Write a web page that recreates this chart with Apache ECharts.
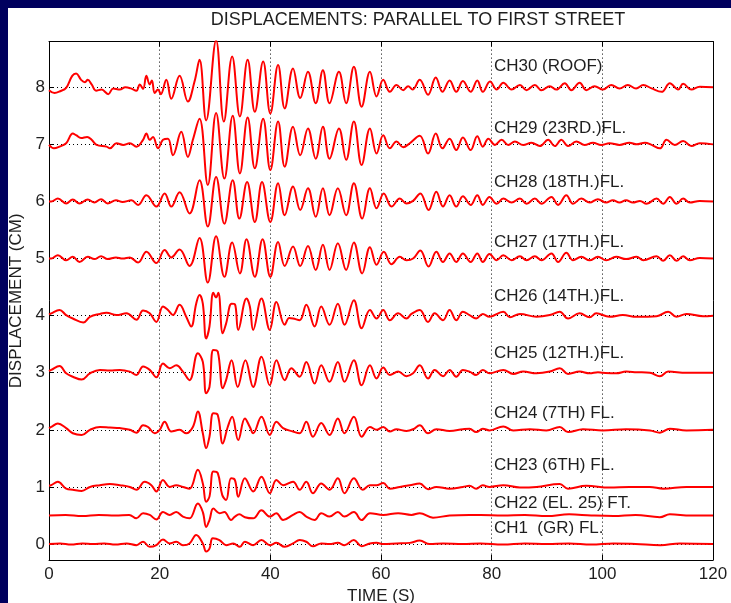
<!DOCTYPE html>
<html><head><meta charset="utf-8">
<script src="https://cdn.jsdelivr.net/npm/echarts@6/dist/echarts.min.js"></script>
<style>
html,body{margin:0;padding:0;background:#fff;overflow:hidden;width:731px;height:603px;}
#frameTop{position:absolute;left:0;top:0;width:731px;height:8px;background:#00005e;}
#frameLeft{position:absolute;left:0;top:0;width:8px;height:603px;background:#00005e;}
#chart{position:absolute;left:0;top:0;width:731px;height:603px;}
</style></head><body>
<div id="frameTop"></div><div id="frameLeft"></div><div id="chart"></div>
<script>
// ---------------- DATA ----------------
const titleText = 'DISPLACEMENTS: PARALLEL TO FIRST STREET';
const xName = 'TIME (S)';
const yName = 'DISPLACEMENT (CM)';
const xTicks = [0, 20, 40, 60, 80, 100, 120];
const yTicks = [0, 1, 2, 3, 4, 5, 6, 7, 8];
const channelNames = ['CH30 (ROOF)', 'CH29 (23RD.)FL.', 'CH28 (18TH.)FL.', 'CH27 (17TH.)FL.',
  'CH26 (14TH.)FL.', 'CH25 (12TH.)FL.', 'CH24 (7TH) FL.', 'CH23 (6TH) FL.', 'CH22 (EL. 25) FT.', 'CH1  (GR) FL.'];
const channelOffsets = [8, 7, 6, 5, 4, 3, 2, 1, 0.5, 0];

// [time (s), displacement relative to the channel baseline (cm)]
const ch30 = [[0,-0.05],[1,-0.1],[2,-0.07],[3.1,-0.01],[4.2,0.2],[4.9,0.24],[5.8,0.13],[6.5,0.09],[7.0,0.13],[7.7,0.05],[8.5,-0.06],[9.5,-0.04],[10.7,-0.12],[11.6,-0.02],[12.8,-0.04],[13.8,0.0],[14.8,-0.02],[15.8,-0.06],[16.4,0.05],[17.0,-0.03],[17.6,0.2],[18.2,0.05],[18.6,0.12],[19.1,-0.1],[19.7,-0.04],[20.2,-0.12],[21.2,0.13],[22.1,-0.2],[23.6,0.2],[25.1,-0.25],[26.3,0.1],[27.2,0.48],[28.4,-0.58],[30.2,0.82],[31.6,-0.6],[33.1,0.54],[34.5,-0.51],[35.9,0.48],[37.2,-0.43],[38.7,0.45],[40.0,-0.46],[41.4,0.39],[42.6,-0.37],[44.1,0.33],[45.4,-0.19],[46.8,0.27],[48.2,-0.28],[49.5,0.3],[50.7,-0.28],[52.4,0.27],[53.7,-0.28],[55.1,0.36],[56.5,-0.34],[58.0,0.27],[59.2,-0.16],[60.4,0.13],[61.6,-0.08],[62.8,0.04],[64.0,-0.05],[64.9,0.02],[65.7,-0.04],[67.0,0.13],[68.5,-0.13],[69.9,0.17],[71.1,-0.08],[72.4,0.12],[73.6,-0.08],[74.8,0.11],[76.2,-0.08],[77.4,0.12],[78.4,-0.08],[79.7,0.1],[80.9,-0.04],[82.1,0.08],[83.6,-0.04],[85.1,0.04],[86.3,-0.05],[87.8,0.04],[89.0,-0.05],[90.5,0.02],[91.7,-0.04],[93.2,0.07],[94.4,-0.05],[95.9,0.08],[97.1,-0.05],[98.6,0.02],[100.1,-0.04],[101.6,0.04],[103.1,-0.02],[104.6,0.04],[106.1,-0.02],[107.4,0.04],[108.9,-0.02],[110.7,-0.08],[112.2,0.07],[113.7,-0.04],[114.6,0.06],[116.1,-0.04],[117.6,0.01],[120,0]];
const ch29 = [[0,-0.01],[0.9,-0.07],[1.9,-0.04],[3.1,0.02],[4.3,0.19],[4.9,0.16],[5.8,0.11],[6.9,0.13],[7.7,0.08],[8.6,-0.01],[10.4,-0.04],[11.0,-0.07],[12.2,0.02],[13.4,-0.01],[14.6,0.02],[15.8,-0.04],[17.0,0.08],[17.6,0.19],[18.2,0.08],[18.8,0.13],[19.7,-0.07],[20.6,0.08],[21.5,0.1],[22.4,-0.19],[23.9,0.22],[25.1,-0.22],[26.0,0.08],[27.2,0.45],[28.7,-0.71],[30.2,0.55],[31.7,-0.6],[33.2,0.5],[34.5,-0.51],[35.9,0.47],[37.2,-0.42],[38.7,0.45],[40.0,-0.45],[41.4,0.4],[42.6,-0.39],[44.1,0.31],[45.4,-0.19],[46.8,0.28],[48.2,-0.25],[49.5,0.31],[50.7,-0.25],[52.4,0.28],[53.7,-0.27],[55.1,0.4],[56.5,-0.36],[58.0,0.28],[59.2,-0.16],[60.4,0.16],[61.6,-0.07],[62.8,0.05],[64.0,-0.05],[65.2,0.02],[67.0,0.15],[68.5,-0.16],[69.9,0.19],[71.1,-0.07],[72.4,0.1],[73.6,-0.1],[74.8,0.12],[76.2,-0.1],[77.4,0.14],[78.4,-0.04],[79.4,0.1],[80.6,-0.01],[81.8,0.08],[83.0,-0.01],[84.2,0.05],[85.7,-0.01],[87.2,0.03],[88.7,-0.03],[90.2,0.08],[91.4,-0.03],[92.6,0.08],[93.8,-0.03],[95.3,0.05],[96.8,-0.01],[98.3,0.03],[99.8,-0.01],[101.3,0.02],[103.1,-0.01],[104.9,0.03],[106.2,0],[107.7,0.03],[108.9,-0.01],[110.4,-0.07],[111.6,0.08],[113.1,-0.01],[114.6,0.06],[116.1,-0.03],[117.6,0.02],[120,0]];
const ch28 = [[0,0],[0.4,0.0],[1.6,0.05],[3.1,-0.035],[4.3,0.035],[5.5,-0.035],[7.0,0.035],[8.2,-0.02],[9.4,0.04],[10.6,-0.035],[12.1,0.02],[13.3,-0.01],[14.9,0.02],[16.1,-0.06],[17.6,0.11],[19.4,-0.09],[20.9,0.14],[22.1,-0.09],[23.6,0.16],[25.4,-0.21],[27.2,0.37],[28.7,-0.44],[30.2,0.43],[31.7,-0.39],[33.2,0.37],[34.4,-0.3],[35.8,0.34],[37.2,-0.36],[38.5,0.34],[40.0,-0.36],[41.4,0.32],[42.6,-0.24],[44.1,0.26],[45.4,-0.15],[46.8,0.23],[48.2,-0.27],[49.5,0.23],[50.7,-0.24],[52.2,0.23],[53.7,-0.24],[55.1,0.32],[56.6,-0.3],[58.0,0.23],[59.2,-0.12],[60.5,0.14],[61.9,-0.09],[63.4,0.05],[64.6,-0.035],[65.8,0.01],[67.1,0.14],[68.6,-0.15],[70.0,0.17],[71.2,-0.09],[72.4,0.11],[73.6,-0.09],[74.8,0.09],[76.2,-0.06],[77.4,0.11],[78.4,-0.06],[79.6,0.08],[80.9,-0.04],[82.1,0.05],[83.6,-0.02],[85.1,0.05],[86.3,-0.04],[87.8,0.05],[89.0,-0.04],[90.8,0.08],[92.0,-0.06],[93.5,0.11],[94.7,-0.04],[96.2,0.05],[97.7,-0.02],[99.2,0.04],[100.7,-0.02],[101.9,0.02],[103.1,-0.02],[104.3,0.02],[105.5,-0.02],[106.8,0.01],[108.0,-0.04],[109.8,0.05],[111.0,-0.04],[112.2,0.08],[113.4,-0.04],[114.6,0.05],[115.8,-0.02],[117.6,0.01],[120,0]];
const ch27 = [[0,0],[0.4,0],[1.6,0.06],[3.1,-0.03],[4.3,0.03],[5.5,-0.06],[7.0,0.03],[8.2,-0.01],[9.4,0.04],[10.6,-0.01],[12.1,0.02],[13.3,0],[14.6,0.02],[16.1,-0.07],[17.6,0.12],[19.4,-0.08],[20.9,0.15],[22.1,0.02],[23.6,0.16],[25.4,-0.13],[27.2,0.36],[28.7,-0.42],[30.2,0.39],[31.7,-0.32],[33.1,0.28],[34.5,-0.26],[35.7,0.34],[37.2,-0.32],[38.6,0.34],[40.0,-0.32],[41.4,0.29],[42.6,-0.13],[44.1,0.21],[45.4,-0.13],[46.8,0.22],[48.2,-0.2],[49.5,0.24],[50.7,-0.2],[52.2,0.27],[53.7,-0.2],[55.1,0.28],[56.6,-0.26],[58.0,0.2],[59.2,-0.11],[60.5,0.12],[61.9,-0.1],[63.4,0.03],[64.6,-0.03],[65.8,0],[67.1,0.14],[68.6,-0.14],[70.0,0.12],[71.2,-0.06],[72.4,0.09],[73.6,-0.06],[74.8,0.09],[76.2,-0.06],[77.4,0.09],[78.4,-0.06],[79.6,0.08],[80.9,-0.03],[82.1,0.06],[83.6,-0.03],[85.1,0.04],[86.3,-0.03],[87.8,0.04],[89.0,-0.03],[90.8,0.09],[92.0,-0.06],[93.5,0.1],[94.7,-0.03],[96.2,0.03],[97.7,-0.03],[99.2,0.03],[100.7,-0.03],[102.5,0.03],[104.3,-0.01],[106.2,0.03],[107.4,-0.03],[109.8,0.04],[111.0,-0.04],[112.2,0.06],[113.4,-0.04],[114.6,0.04],[115.8,-0.03],[117.6,0.01],[120,0]];
const ch26 = [[0,0.02],[0.4,0.04],[1.9,0.1],[3.1,0.01],[4.3,-0.05],[6.2,-0.12],[7.4,-0.02],[9.2,0.03],[10.4,0.05],[12.2,0.01],[14.0,0.04],[15.8,-0.07],[17.0,0.09],[18.2,0.04],[19.4,-0.11],[20.6,0.16],[21.5,0.1],[22.4,0.01],[23.6,0.19],[24.8,-0.02],[25.7,-0.19],[26.6,0.21],[27.2,0.36],[27.8,0.21],[28.4,-0.4],[29.0,-0.19],[29.7,0.4],[30.2,0.32],[30.6,0.4],[31.4,-0.31],[32.0,-0.14],[33.0,0.21],[33.6,0.2],[34.2,-0.25],[35.7,0.3],[36.3,0.16],[36.9,-0.25],[38.4,0.3],[39.9,-0.25],[41.1,0.24],[42.6,-0.16],[43.4,-0.04],[44.1,-0.05],[45.3,-0.08],[46.5,0.19],[48.0,-0.19],[49.2,0.16],[50.7,-0.16],[52.2,0.21],[53.4,-0.16],[55.1,0.27],[56.5,-0.22],[58.0,0.1],[59.2,-0.05],[60.4,0.1],[61.6,-0.08],[63.1,0.04],[64.6,-0.05],[65.5,0.03],[67.0,0.1],[68.5,-0.11],[69.7,0.04],[71.2,-0.08],[72.4,0.1],[73.6,-0.08],[74.8,0.07],[76.0,0.01],[77.2,-0.05],[78.4,0.03],[79.6,-0.02],[82.1,0.07],[83.3,-0.03],[85.1,0.03],[88.1,-0.02],[90.5,0.01],[92.3,0.07],[93.8,-0.05],[95.9,0.04],[97.7,-0.03],[98.9,0.04],[101.3,-0.02],[103.7,0.01],[106.2,-0.02],[109.8,-0.01],[111.9,0.07],[113.4,-0.02],[115.2,0.03],[118.2,-0.01],[120,0]];
const ch25 = [[0,0.03],[0.4,0.05],[1.9,0.12],[3.1,-0.01],[4.3,-0.07],[5.9,-0.12],[7.4,-0.01],[9.2,0.05],[11.0,0.04],[12.8,0.05],[14.6,0.02],[15.8,-0.04],[17.0,0.11],[18.2,0.05],[19.4,-0.08],[20.6,0.16],[21.8,0.08],[23.0,0.13],[24.2,0.02],[25.4,-0.13],[26.9,0.34],[27.8,0.19],[28.4,-0.36],[29.0,-0.25],[29.7,0.4],[30.5,0.37],[31.4,-0.27],[32.0,-0.13],[33.0,0.22],[34.1,-0.25],[35.5,0.22],[36.9,-0.25],[38.4,0.28],[39.9,-0.22],[41.1,0.22],[42.6,-0.13],[43.8,0.08],[45.3,-0.07],[46.5,0.19],[48.0,-0.19],[49.2,0.13],[50.7,-0.16],[52.2,0.19],[53.4,-0.16],[55.1,0.22],[56.5,-0.22],[58.0,0.13],[59.2,-0.1],[60.4,0.09],[61.6,-0.04],[63.1,0.02],[64.6,-0.06],[65.8,-0.01],[67.0,0.13],[68.5,-0.1],[69.7,0.05],[71.2,-0.06],[72.4,0.05],[73.6,-0.07],[74.8,0.05],[76.0,0.02],[77.2,-0.04],[78.4,0.05],[79.6,-0.01],[82.1,0.05],[83.9,-0.02],[85.7,0.02],[88.1,-0.01],[90.5,0.02],[92.3,0.08],[93.8,-0.02],[95.9,0.02],[97.7,-0.01],[99.2,0.01],[100.1,0],[102.5,-0.01],[104.3,0.02],[106.2,0.01],[108.6,0],[110.4,-0.06],[111.9,0.02],[115.2,0],[120,0]];
const ch24 = [[0,0.03],[0.4,0.05],[1.6,0.11],[3.1,0.03],[4.3,-0.06],[5.9,-0.09],[7.4,0],[9.2,0.05],[11.0,0.04],[12.8,0.03],[14.6,0],[15.8,-0.05],[17.0,0.08],[17.9,0.05],[19.1,-0.06],[20.0,0],[20.9,0.14],[22.1,-0.03],[23.6,0],[24.8,-0.06],[26.0,0.05],[26.9,0.32],[27.8,-0.06],[28.4,-0.32],[29.0,-0.12],[29.7,0.29],[30.5,0.26],[31.4,-0.24],[32.3,0.05],[33.1,0.23],[34.2,-0.18],[35.4,0.2],[36.3,0.05],[36.9,-0.06],[38.4,0.23],[39.9,-0.09],[41.1,0.14],[42.3,0.03],[44.1,-0.03],[45.3,-0.06],[46.5,0.14],[47.7,-0.12],[49.2,0.12],[50.7,-0.09],[52.2,0.2],[53.4,-0.06],[55.1,0.23],[56.5,-0.12],[58.0,0.05],[59.2,0],[60.4,0.05],[61.6,-0.03],[62.8,0.01],[64.6,-0.02],[65.8,0.01],[67.0,0.08],[68.5,-0.06],[70.0,0.01],[72.4,-0.02],[74.8,0.01],[76.0,0.02],[77.2,-0.04],[78.4,0.02],[79.6,-0.01],[82.1,0.06],[83.9,-0.01],[86.9,0.01],[89.9,-0.01],[92.3,0.05],[93.8,-0.04],[96.5,0.01],[100.1,-0.01],[104.3,0.01],[108.6,-0.01],[110.4,-0.05],[112.2,0.02],[115.2,-0.01],[120,0]];
const ch23 = [[0,0.02],[0.4,0.03],[1.6,0.09],[3.1,-0.03],[4.3,-0.05],[5.9,-0.07],[7.4,0],[9.2,0.03],[11.0,0.05],[12.8,0.03],[14.6,0],[15.8,-0.05],[17.3,0.09],[18.5,0.03],[19.4,-0.08],[20.6,0.12],[21.8,0],[23.0,0.03],[24.2,0],[25.4,-0.03],[26.9,0.3],[27.8,0.06],[28.4,-0.26],[29.0,-0.17],[29.7,0.27],[30.5,0.24],[31.3,-0.14],[32.0,-0.23],[32.9,0.15],[33.6,0.12],[34.2,-0.17],[35.4,0.15],[36.9,-0.08],[38.4,0.18],[39.9,-0.11],[41.1,0.12],[42.3,0.03],[44.1,0.09],[45.3,-0.05],[46.5,0.09],[47.7,-0.11],[49.2,0.06],[50.7,-0.05],[52.2,0.15],[53.4,-0.11],[55.1,0.15],[56.7,-0.05],[58.0,0.03],[59.2,0.03],[60.4,0.07],[61.6,-0.03],[63.4,0],[65.2,0.03],[67.0,0.06],[68.5,-0.04],[70.0,0],[72.4,-0.03],[74.8,0],[76.0,0.02],[77.2,-0.03],[78.4,0.03],[79.6,0],[82.1,0.03],[85.1,-0.01],[88.1,0],[92.3,0.05],[93.8,-0.03],[97.1,0.02],[101.3,-0.01],[104.9,0],[108.6,0],[111.0,-0.03],[115.2,0],[120,0]];
const ch22 = [[0,0],[3,0.01],[6,-0.01],[9,0.01],[12,0],[14.5,0.01],[15.8,-0.05],[17.0,0.04],[18.2,0.01],[19.4,-0.07],[20.6,0.06],[21.8,0.01],[23.0,0.06],[24.2,-0.02],[25.4,-0.05],[26.9,0.21],[27.8,0.06],[28.4,-0.2],[29.0,-0.08],[29.7,0.12],[30.8,0.04],[31.7,0.06],[32.9,-0.08],[33.6,-0.02],[34.4,0.02],[35.4,-0.03],[36.9,-0.05],[38.4,0.09],[39.9,-0.02],[41.1,0.04],[42.3,-0.08],[44.1,0.01],[45.3,0.06],[46.5,-0.02],[48.0,-0.08],[49.2,0.04],[50.7,-0.02],[52.2,0.06],[53.4,-0.02],[55.1,0.06],[56.5,-0.08],[58.0,0.04],[60.4,0.01],[63.1,0.04],[65.5,0.01],[67.0,0.04],[69.4,-0.04],[72.4,0],[76,0.01],[78,0.01],[82,0],[86,0.01],[90,-0.01],[94,0.02],[98,0],[102,-0.01],[106,0.01],[110.4,-0.03],[112.2,0.02],[116,0],[120,0]];
const ch1 = [[0,0],[2,0.01],[4,-0.01],[6,0.01],[8,0],[10,0.01],[12,-0.01],[14,0.01],[15.8,-0.02],[17.0,0.04],[18.2,-0.05],[19.4,-0.02],[20.6,0.08],[21.8,0.01],[23.0,0.04],[24.2,-0.02],[25.4,0.01],[26.6,0.16],[27.8,0.01],[28.4,-0.13],[29.0,-0.08],[29.6,0.1],[30.8,0.07],[32.0,-0.02],[33.3,0.01],[34.5,-0.05],[35.4,0.04],[36.9,-0.02],[38.4,0.07],[39.9,-0.02],[41.1,0.02],[42.6,-0.05],[44.1,0.01],[45.3,0.07],[46.5,0.04],[47.7,-0.04],[49.2,0.01],[50.7,0],[52.2,0.02],[53.4,-0.02],[55.1,0.07],[56.5,-0.04],[58.0,0.01],[59.2,0.02],[60.4,0],[62.8,0.01],[65.2,0.02],[67.0,0.06],[68.8,0],[71.2,0.01],[74.8,0],[78,0.01],[82,-0.01],[86,0.01],[90,0],[94,0.01],[98,-0.01],[102,0.01],[106,0],[110.5,-0.02],[114,0.01],[120,0]];
const channelData = [ch30, ch29, ch28, ch27, ch26, ch25, ch24, ch23, ch22, ch1];

// ---------------- LAYOUT ----------------
const FONT = '"Liberation Sans", Arial, sans-serif';
const TEXT = '#1e1e1e';
const labelTime = 80.4;
const labelLift = [0.37, 0.28, 0.34, 0.29, 0.33, 0.34, 0.29, 0.38, 0.21, 0.28];

const chart = echarts.init(document.getElementById('chart'), null, {renderer: 'canvas', width: 731, height: 603});
const dotted = {color: '#000', width: 1, type: [1, 3]};

const series = channelData.map((arr, i) => ({
  type: 'line', name: channelNames[i], xAxisIndex: 0, yAxisIndex: 0,
  data: arr.map(p => [p[0], channelOffsets[i] + p[1]]),
  showSymbol: false, smooth: 0.4, z: 5,
  lineStyle: {color: '#ff0000', width: 2}, animation: false, silent: true
}));
series.push({
  type: 'line', data: [], xAxisIndex: 0, yAxisIndex: 0, z: 1, silent: true, animation: false,
  markLine: {silent: true, symbol: 'none', animation: false, label: {show: false},
    lineStyle: dotted, data: yTicks.map(v => ({yAxis: v}))}
});

const option = {
  animation: false,
  backgroundColor: 'transparent',
  grid: {left: 49, right: 18, top: 41.6, bottom: 43, outerBoundsMode: 'none', show: false},
  xAxis: [{
    type: 'value', min: 0, max: 120, interval: 20, position: 'bottom',
    name: xName, nameLocation: 'middle', nameGap: 18,
    nameTextStyle: {fontFamily: FONT, fontSize: 17, color: TEXT},
    axisLine: {show: true, onZero: false, lineStyle: {color: '#000', width: 1}},
    axisTick: {show: true, inside: true, length: 5, lineStyle: {color: '#000'}},
    axisLabel: {fontFamily: FONT, fontSize: 17, color: TEXT, margin: 6},
    splitLine: {show: true, lineStyle: dotted}
  }, {
    type: 'value', min: 0, max: 120, interval: 20, position: 'top',
    axisLine: {show: true, onZero: false, lineStyle: {color: '#000', width: 1}},
    axisTick: {show: true, inside: true, length: 5, lineStyle: {color: '#000'}},
    axisLabel: {show: false}, splitLine: {show: false}
  }],
  yAxis: [{
    type: 'value', min: -0.28, max: 8.8, position: 'left',
    name: yName, nameLocation: 'middle', nameGap: 18, nameRotate: 90,
    nameTextStyle: {fontFamily: FONT, fontSize: 17, color: TEXT},
    axisLine: {show: true, onZero: false, lineStyle: {color: '#000', width: 1}},
    axisTick: {show: true, inside: true, length: 5, customValues: yTicks, lineStyle: {color: '#000'}},
    axisLabel: {fontFamily: FONT, fontSize: 17, color: TEXT, margin: 4, customValues: yTicks},
    splitLine: {show: false}
  }, {
    type: 'value', min: -0.28, max: 8.8, position: 'right',
    axisLine: {show: true, onZero: false, lineStyle: {color: '#000', width: 1}},
    axisTick: {show: true, inside: true, length: 5, customValues: yTicks, lineStyle: {color: '#000'}},
    axisLabel: {show: false}, splitLine: {show: false}
  }],
  series: series
};
chart.setOption(option);

const graphics = [{
  type: 'text', x: 418, y: 20, z: 10,
  style: {text: titleText, font: '18px ' + FONT, fill: TEXT, textAlign: 'center', textVerticalAlign: 'middle', verticalAlign: 'middle'}
}];
channelNames.forEach((nm, i) => {
  const p = chart.convertToPixel({xAxisIndex: 0, yAxisIndex: 0}, [labelTime, channelOffsets[i] + labelLift[i]]);
  graphics.push({
    type: 'text', x: p[0], y: p[1], z: 10,
    style: {text: nm, font: '17px ' + FONT, fill: TEXT, textAlign: 'left', textVerticalAlign: 'middle', verticalAlign: 'middle'}
  });
});
chart.setOption({graphic: graphics});
</script>
</body></html>
